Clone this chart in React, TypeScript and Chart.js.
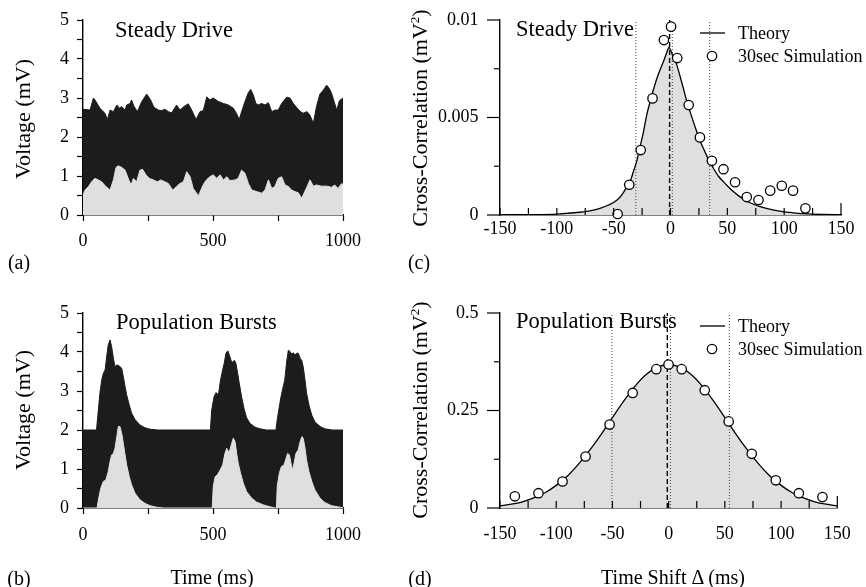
import React, { useEffect, useRef } from 'react';
import { Chart, registerables } from 'chart.js';

Chart.register(...registerables);

const FONT = '"Liberation Serif", "Times New Roman", Times, serif';
const BLACK = '#1c1c1c';
const GREY = '#dedfe1';

// ---------- (a) Steady Drive voltage traces ----------
const aUpperT = [0, 27, 40, 46, 65, 85, 94, 104, 117, 130, 140, 149, 162, 168, 181, 187, 196, 209, 226, 245, 260, 273, 290, 303, 315, 328, 341, 360, 373, 388, 405, 418, 435, 450, 463, 476, 488, 501, 521, 540, 559, 578, 590, 601, 610, 623, 636, 645, 655, 665, 674, 687, 700, 713, 726, 738, 751, 764, 783, 796, 809, 824, 837, 847, 862, 873, 886, 898, 911, 924, 937, 947, 956, 968, 976, 986, 1000];
const aUpperV = [2.71, 2.69, 3.0, 2.95, 2.74, 2.6, 2.45, 2.69, 2.65, 2.82, 2.74, 2.78, 2.69, 2.82, 2.86, 2.95, 2.79, 2.65, 2.91, 3.1, 2.95, 2.76, 2.69, 2.68, 2.71, 2.65, 2.62, 2.82, 2.69, 2.78, 2.85, 2.69, 2.45, 2.65, 2.68, 3.03, 2.95, 3.0, 2.91, 2.86, 2.82, 2.74, 2.61, 2.45, 2.65, 2.91, 3.14, 3.22, 3.08, 2.86, 2.82, 2.86, 2.82, 2.88, 2.65, 2.69, 2.69, 2.86, 3.02, 3.0, 2.86, 2.74, 2.65, 2.61, 2.65, 2.56, 2.35, 2.78, 3.1, 3.2, 3.33, 3.25, 3.12, 2.86, 2.69, 2.93, 3.0];
const aLowerT = [0, 8, 21, 33, 46, 59, 72, 88, 104, 117, 127, 136, 149, 162, 176, 185, 194, 206, 219, 229, 242, 255, 271, 286, 299, 315, 328, 345, 360, 373, 386, 399, 412, 424, 437, 444, 456, 465, 476, 488, 501, 514, 527, 540, 553, 565, 585, 597, 610, 623, 636, 649, 668, 687, 700, 713, 726, 738, 751, 764, 777, 790, 802, 815, 828, 841, 851, 862, 873, 886, 898, 917, 937, 956, 968, 981, 995, 1000];
const aLowerV = [0.51, 0.64, 0.73, 0.85, 0.94, 0.9, 0.85, 0.73, 0.64, 0.9, 1.22, 1.26, 1.22, 1.15, 0.9, 0.77, 0.94, 0.85, 1.15, 1.17, 1.03, 0.94, 0.9, 0.85, 0.9, 0.85, 0.81, 0.64, 0.73, 0.81, 0.85, 1.11, 0.98, 0.68, 0.56, 0.49, 0.68, 0.81, 0.91, 0.98, 1.03, 0.94, 1.03, 0.9, 0.98, 0.88, 0.9, 0.94, 1.15, 1.07, 0.81, 0.64, 0.6, 0.56, 0.64, 0.9, 0.68, 0.73, 0.94, 0.98, 0.77, 0.73, 0.64, 0.6, 0.57, 0.43, 0.57, 0.73, 0.9, 0.74, 0.77, 0.74, 0.74, 0.71, 0.77, 0.68, 0.81, 0.78];

// ---------- (b) Population Bursts voltage traces ----------
const bUpperT = [0, 52, 59, 65, 72, 78, 85, 91, 97, 104, 110, 117, 123, 130, 140, 149, 155, 162, 168, 178, 187, 200, 219, 238, 258, 290, 490, 495, 504, 512, 521, 527, 534, 543, 550, 557, 563, 569, 576, 582, 588, 595, 601, 610, 619, 629, 642, 662, 681, 706, 742, 745, 751, 757, 763, 770, 776, 784, 790, 796, 803, 809, 815, 822, 828, 835, 841, 847, 854, 860, 869, 880, 892, 912, 930, 960, 1000];
const bUpperV = [2, 2, 2.51, 2.94, 3.28, 3.45, 3.54, 3.88, 4.18, 4.31, 4.14, 3.84, 3.62, 3.67, 3.64, 3.58, 3.37, 3.11, 2.9, 2.64, 2.43, 2.27, 2.13, 2.06, 2.02, 2.0, 2.0, 2.51, 2.85, 2.96, 2.9, 3.2, 3.45, 3.71, 3.97, 4.03, 3.92, 3.79, 3.73, 3.79, 3.71, 3.45, 3.2, 2.85, 2.56, 2.32, 2.17, 2.07, 2.03, 2.0, 2.0, 2.17, 2.43, 2.68, 2.9, 3.11, 3.28, 3.79, 4.05, 4.01, 3.95, 3.98, 3.92, 3.97, 3.97, 3.84, 3.79, 3.62, 3.28, 2.94, 2.64, 2.38, 2.21, 2.09, 2.03, 2.0, 2.0];
const bLowerT = [0, 54, 59, 68, 78, 88, 97, 104, 110, 117, 123, 130, 136, 142, 149, 155, 162, 168, 178, 187, 200, 219, 238, 258, 283, 310, 497, 501, 508, 517, 527, 537, 546, 553, 559, 565, 572, 578, 585, 591, 597, 606, 617, 629, 649, 668, 694, 719, 740, 744, 747, 755, 763, 773, 781, 787, 794, 800, 806, 813, 819, 828, 835, 842, 847, 854, 860, 869, 880, 892, 912, 930, 956, 988, 1000];
const bLowerV = [0, 0, 0.2, 0.5, 0.68, 0.72, 0.93, 1.19, 1.36, 1.4, 1.53, 1.83, 2.09, 2.09, 1.91, 1.66, 1.36, 1.1, 0.8, 0.59, 0.38, 0.21, 0.12, 0.06, 0.02, 0, 0, 0.55, 0.8, 0.85, 0.97, 1.1, 1.4, 1.53, 1.44, 1.49, 1.66, 1.79, 1.7, 1.4, 1.15, 0.89, 0.63, 0.42, 0.25, 0.15, 0.08, 0.03, 0, 0, 0.55, 0.89, 1.06, 1.1, 1.27, 1.4, 1.36, 1.15, 0.97, 1.19, 1.4, 1.49, 1.7, 1.83, 1.79, 1.53, 1.23, 0.93, 0.68, 0.46, 0.25, 0.14, 0.06, 0.02, 0.01];

// ---------- (c) Steady Drive cross-correlation ----------
const cTheoryX = [-150, -125, -100, -80, -70, -62, -55, -47, -42, -38.5, -35, -32.7, -30, -26.8, -24, -20.9, -18, -15.1, -12, -9.2, -6, -3.5, -1.3, 0.5, 2.5, 5.5, 8, 11.3, 14, 17.2, 20, 23.1, 26, 28.9, 33, 37.7, 42, 46.5, 50, 55.3, 60, 67, 73, 78.8, 90, 100, 110, 120, 135, 150];
const cTheoryY = [0.00001, 0.00002, 0.00005, 0.00014, 0.00022, 0.00034, 0.0005, 0.00077, 0.0011, 0.00145, 0.0018, 0.00222, 0.0027, 0.0035, 0.0042, 0.00513, 0.0058, 0.00641, 0.007, 0.00744, 0.0079, 0.0083, 0.0086, 0.0084, 0.0081, 0.0077, 0.0072, 0.0065, 0.0059, 0.0053, 0.0048, 0.00427, 0.0038, 0.00342, 0.0029, 0.0024, 0.002, 0.00171, 0.0015, 0.0012, 0.00098, 0.00072, 0.00055, 0.00043, 0.00026, 0.00016, 0.0001, 0.00006, 0.00003, 0.00001];
const cSimX = [-46.5, -36.3, -26.2, -15.8, -5.8, 0.5, 5.9, 16.0, 25.9, 36.4, 46.6, 56.8, 67.1, 77.4, 87.7, 97.9, 107.8, 118.7];
const cSimY = [0.00005, 0.00155, 0.00333, 0.00598, 0.00897, 0.00966, 0.00805, 0.00564, 0.00398, 0.00278, 0.00235, 0.00168, 0.00092, 0.00077, 0.00125, 0.0015, 0.00125, 0.00034];
const cDottedX = [-30.5, 1.6, 34.5];
const cDashedX = [-0.8];

// ---------- (d) Population Bursts cross-correlation ----------
const dTheoryX = [-150, -140, -130, -120, -110, -100, -90, -80, -70, -60, -50, -40, -30, -20, -10, 0, 10, 20, 30, 40, 50, 60, 70, 80, 90, 100, 110, 120, 130, 140, 150];
const dTheoryY = [0.0057, 0.0098, 0.016, 0.026, 0.039, 0.058, 0.082, 0.113, 0.149, 0.189, 0.232, 0.274, 0.312, 0.342, 0.361, 0.368, 0.361, 0.342, 0.312, 0.274, 0.232, 0.189, 0.149, 0.113, 0.082, 0.058, 0.039, 0.026, 0.016, 0.0098, 0.0057];
const dSimX = [-136.8, -115.8, -94.4, -73.9, -52.5, -32.0, -11.0, -0.1, 11.6, 32.1, 53.4, 73.9, 95.3, 115.8, 136.8];
const dSimY = [0.03, 0.038, 0.068, 0.132, 0.214, 0.295, 0.356, 0.368, 0.356, 0.302, 0.222, 0.139, 0.071, 0.038, 0.028];
const dDottedX = [-50.5, 1.6, 54];
const dDashedX = [-1.2];

const pts = (xs: number[], ys: number[]) => xs.map((x, i) => ({ x, y: ys[i] }));

const tickFont = { family: FONT, size: 18 };
const gridOut = { drawOnChartArea: false, drawTicks: true, tickLength: 6, tickColor: '#000', tickWidth: 1.2 };
const borderOpt = { display: true, color: '#000', width: 1.4 };

const vline = (x: number, yMax: number, dash: number[], color: string, width: number) => ({
  label: 'marker',
  data: [{ x, y: 0 }, { x, y: yMax }],
  borderColor: color,
  borderWidth: width,
  borderDash: dash,
  pointRadius: 0,
  fill: false,
  order: 2,
});

// tick marks for the correlation panels: x ticks point inward, y ticks outward (major long, minor short)
const corrTicks = {
  id: 'corrTicks',
  afterDatasetsDraw(chart: any) {
    const sx = chart.scales.x;
    const sy = chart.scales.y;
    const ca = chart.chartArea;
    const ctx = chart.ctx;
    ctx.save();
    ctx.strokeStyle = '#000';
    ctx.lineWidth = 1.2;
    const n = sx.ticks.length;
    sx.ticks.forEach((t: any, i: number) => {
      const px = sx.getPixelForValue(t.value);
      ctx.beginPath();
      ctx.moveTo(px, ca.bottom);
      ctx.lineTo(px, ca.bottom - (i === n - 1 ? 12 : 7));
      ctx.stroke();
    });
    sy.ticks.forEach((t: any, i: number) => {
      const py = sy.getPixelForValue(t.value);
      ctx.beginPath();
      ctx.moveTo(ca.left, py);
      ctx.lineTo(ca.left - (i % 2 === 0 ? 13 : 6), py);
      ctx.stroke();
    });
    ctx.restore();
  },
};

const legendMarks = {
  id: 'legendMarks',
  afterDraw(chart: any) {
    const ctx = chart.ctx;
    const ca = chart.chartArea;
    ctx.save();
    ctx.strokeStyle = '#222';
    ctx.lineWidth = 1.5;
    ctx.beginPath();
    ctx.moveTo(ca.left + 200, ca.top + 13);
    ctx.lineTo(ca.left + 225, ca.top + 13);
    ctx.stroke();
    ctx.beginPath();
    ctx.arc(ca.left + 212, ca.top + 36, 4.7, 0, Math.PI * 2);
    ctx.fillStyle = '#fff';
    ctx.fill();
    ctx.lineWidth = 1.3;
    ctx.strokeStyle = '#000';
    ctx.stroke();
    ctx.restore();
  },
};

function traceConfig(upT: number[], upV: number[], loT: number[], loV: number[], xPad: number): any {
  return {
    type: 'line',
    data: {
      datasets: [
        { label: 'lower', data: pts(loT, loV), order: 1, fill: 'origin', backgroundColor: GREY, borderColor: GREY, borderWidth: 1, pointRadius: 0 },
        { label: 'upper', data: pts(upT, upV), order: 2, fill: 'origin', backgroundColor: BLACK, borderColor: BLACK, borderWidth: 1, pointRadius: 0 },
      ],
    },
    options: {
      animation: false,
      responsive: false,
      events: [],
      layout: { padding: { left: 0, right: 90, top: 20, bottom: 0 } },
      plugins: { legend: { display: false }, tooltip: { enabled: false }, title: { display: false } },
      scales: {
        x: {
          type: 'linear', min: 0, max: 1000,
          ticks: { stepSize: 250, autoSkip: false, maxRotation: 0, padding: xPad, color: '#000', font: tickFont, callback: (v: number) => (v % 500 === 0 ? String(v) : '') },
          grid: gridOut, border: borderOpt,
          afterFit: (s: any) => { s.height = 75; },
        },
        y: {
          type: 'linear', min: 0, max: 5,
          ticks: { stepSize: 0.5, autoSkip: false, padding: 8, color: '#000', font: tickFont, callback: (v: number) => (Number.isInteger(v) ? String(v) : '') },
          grid: gridOut, border: borderOpt,
          afterFit: (s: any) => { s.width = 83; },
        },
      },
    },
  };
}

function corrConfig(thX: number[], thY: number[], simX: number[], simY: number[], dotted: number[], dashed: number[], yMax: number, yStep: number, xPad: number): any {
  return {
    type: 'line',
    data: {
      datasets: [
        { label: '30sec Simulation', data: pts(simX, simY), order: 1, showLine: false, pointRadius: 4.7, pointStyle: 'circle', pointBackgroundColor: '#fff', pointBorderColor: '#000', pointBorderWidth: 1.3, clip: false },
        ...dashed.map((x) => vline(x, yMax, [5, 3], '#000', 1.4)),
        ...dotted.map((x) => vline(x, yMax, [1, 2], '#444', 1)),
        { label: 'Theory', data: pts(thX, thY), order: 3, fill: 'origin', backgroundColor: GREY, borderColor: '#000', borderWidth: 1.3, pointRadius: 0, cubicInterpolationMode: 'monotone' },
      ],
    },
    options: {
      animation: false,
      responsive: false,
      events: [],
      layout: { padding: { left: 0, right: 25, top: 20, bottom: 0 } },
      plugins: { legend: { display: false }, tooltip: { enabled: false }, title: { display: false } },
      scales: {
        x: {
          type: 'linear', min: -150, max: 150,
          ticks: { stepSize: 25, autoSkip: false, maxRotation: 0, padding: xPad, color: '#000', font: tickFont, callback: (v: number) => (v % 50 === 0 ? String(v) : '') },
          grid: { drawOnChartArea: false, drawTicks: false },
          border: borderOpt,
          afterFit: (s: any) => { s.height = 75; },
        },
        y: {
          type: 'linear', min: 0, max: yMax,
          ticks: { stepSize: yStep, autoSkip: false, padding: 8.5, color: '#000', font: tickFont, callback: (v: number) => (Math.round(v / yStep) % 2 === 0 ? String(+v.toFixed(4)) : '') },
          grid: { drawOnChartArea: false, drawTicks: true, tickLength: 13, tickColor: 'rgba(0,0,0,0)' },
          border: borderOpt,
          afterFit: (s: any) => { s.width = 67; },
        },
      },
    },
    plugins: [corrTicks, legendMarks],
  };
}

function ChartCanvas({ make, left, top, width, height }: { make: () => any; left: number; top: number; width: number; height: number }) {
  const ref = useRef<HTMLCanvasElement | null>(null);
  useEffect(() => {
    const chart = new Chart(ref.current as HTMLCanvasElement, make());
    return () => chart.destroy();
  }, []);
  return <canvas ref={ref} width={width} height={height} style={{ position: 'absolute', left, top, width, height }} />;
}

const txt = (s: React.CSSProperties): React.CSSProperties => ({
  position: 'absolute', fontFamily: FONT, color: '#000', whiteSpace: 'nowrap', lineHeight: 1, ...s,
});
const rot = 'translate(-50%,-50%) rotate(-90deg)';
const ctr = 'translate(-50%,-50%)';

export default function App() {
  const sup = <sup style={{ fontSize: '0.6em', lineHeight: 0, verticalAlign: 'super' }}>2</sup>;
  return (
    <div style={{ position: 'fixed', left: 0, top: 0, width: 866, height: 587, background: '#fff', overflow: 'hidden' }}>
      <ChartCanvas make={() => traceConfig(aUpperT, aUpperV, aLowerT, aLowerV, 9)} left={0} top={0} width={433} height={290} />
      <ChartCanvas make={() => traceConfig(bUpperT, bUpperV, bLowerT, bLowerV, 10)} left={0} top={293} width={433} height={290} />
      <ChartCanvas make={() => corrConfig(cTheoryX, cTheoryY, cSimX, cSimY, cDottedX, cDashedX, 0.01, 0.0025, 3.4)} left={433} top={0} width={433} height={290} />
      <ChartCanvas make={() => corrConfig(dTheoryX, dTheoryY, dSimX, dSimY, dDottedX, dDashedX, 0.5, 0.125, 15.2)} left={433} top={293} width={433} height={290} />

      <div style={txt({ left: 115, top: 19.2, fontSize: 22.5 })}>Steady Drive</div>
      <div style={txt({ left: 516, top: 18.2, fontSize: 22.5 })}>Steady Drive</div>
      <div style={txt({ left: 116, top: 311.2, fontSize: 22.5 })}>Population Bursts</div>
      <div style={txt({ left: 516, top: 310.2, fontSize: 22.5 })}>Population Bursts</div>

      <div style={txt({ left: 738, top: 24.4, fontSize: 18 })}>Theory</div>
      <div style={txt({ left: 738, top: 46.9, fontSize: 18 })}>30sec Simulation</div>
      <div style={txt({ left: 738, top: 317.4, fontSize: 18 })}>Theory</div>
      <div style={txt({ left: 738, top: 339.9, fontSize: 18 })}>30sec Simulation</div>

      <div style={txt({ left: 23, top: 119, fontSize: 22, transform: rot })}>Voltage (mV)</div>
      <div style={txt({ left: 23, top: 410, fontSize: 22, transform: rot })}>Voltage (mV)</div>
      <div style={txt({ left: 420, top: 118, fontSize: 22, transform: rot })}>Cross-Correlation (mV{sup})</div>
      <div style={txt({ left: 420, top: 410, fontSize: 22, transform: rot })}>Cross-Correlation (mV{sup})</div>

      <div style={txt({ left: 212, top: 577, fontSize: 20, transform: ctr })}>Time (ms)</div>
      <div style={txt({ left: 673, top: 577, fontSize: 20, transform: ctr })}>Time Shift Δ (ms)</div>

      <div style={txt({ left: 19, top: 262, fontSize: 20, transform: ctr })}>(a)</div>
      <div style={txt({ left: 419, top: 262, fontSize: 20, transform: ctr })}>(c)</div>
      <div style={txt({ left: 19, top: 578, fontSize: 20, transform: ctr })}>(b)</div>
      <div style={txt({ left: 420, top: 578, fontSize: 20, transform: ctr })}>(d)</div>
    </div>
  );
}
